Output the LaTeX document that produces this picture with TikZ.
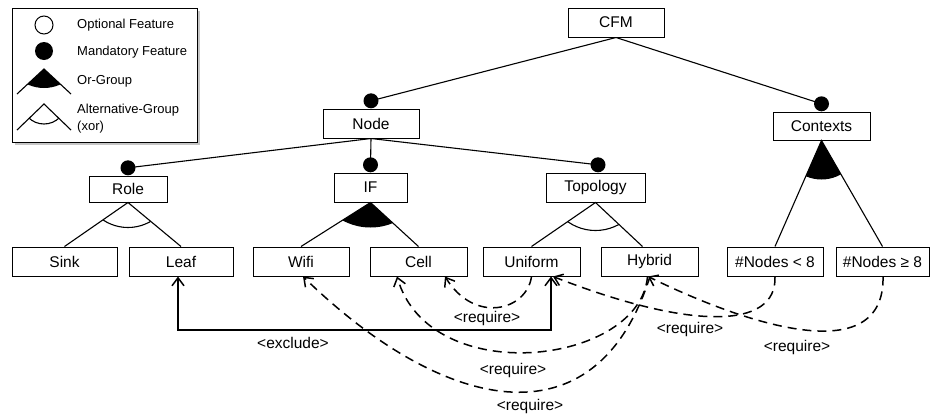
\documentclass[tikz,border=0pt]{standalone}
\usepackage{fontspec}
\setmainfont{Liberation Sans}
\usetikzlibrary{arrows.meta,calc}
\pgfdeclarelayer{bg}\pgfsetlayers{bg,main}
\begin{document}
\begin{tikzpicture}[x=1pt,y=-1pt,
 feat/.style={draw, line width=1pt, inner sep=0pt, minimum height=29pt, font=\fontsize{15.5}{18}\selectfont, fill=white},
 mand/.style={circle, fill=black, inner sep=0pt, minimum size=15pt},
 tree/.style={line width=1.1pt},
 barb/.tip={Straight Barb[length=8pt,width=12pt]},
 req/.style={line width=1.5pt, dash pattern=on 9pt off 6pt, -barb},
 lbl/.style={font=\fontsize{15.5}{18}\selectfont, inner sep=0pt},
 leg/.style={font=\fontsize{13}{15}\selectfont, anchor=west, inner sep=0pt}]

\useasboundingbox (0,0) rectangle (931,418);

% legend
\fill[gray!45] (15,11) rectangle (200,145);
\draw[line width=1pt, fill=white] (12,8) rectangle (197,142);
\draw[line width=1pt] (44,25) circle[radius=9pt];
\fill (44,51) circle[radius=9pt];
\begin{scope}
  \clip (44,69) -- (17,94) -- (71,94) -- cycle;
  \fill (44,49) circle[radius=39pt];
\end{scope}
\draw[tree] (17,94) -- (44,69) -- (71,94);
\begin{scope}
  \clip (44,104) -- (17,130) -- (71,130) -- cycle;
  \draw[tree] (44,102) circle[radius=22pt];
\end{scope}
\draw[tree] (17,130) -- (44,104) -- (71,130);
\node[leg] (lOpt) at (77,25) {Optional Feature};
\node[leg] (lMan) at (77,52) {Mandatory Feature};
\node[leg] (lOr) at (77,81) {Or-Group};
\node[leg] (lAlt) at (77,110) {Alternative-Group};
\node[leg] (lXor) at (77,127) {(xor)};

% features
\node[feat, minimum width=96pt] (CFM) at (616,22.5) {CFM};
\node[feat, minimum width=96pt] (Node) at (371,123.5) {Node};
\node[feat, minimum width=97pt, minimum height=28pt] (Ctx) at (821.5,126) {Contexts};
\node[feat, minimum width=78pt, minimum height=26pt] (Role) at (128,189) {Role};
\node[feat, minimum width=73pt] (IF) at (370.5,187.5) {IF};
\node[feat, minimum width=99pt] (Topo) at (595.5,187.5) {Topology};
\node[feat, minimum width=105pt] (Sink) at (64.5,261.5) {Sink};
\node[feat, minimum width=104pt] (Leaf) at (181,261.5) {Leaf};
\node[feat, minimum width=96pt] (Wifi) at (301,261.5) {Wifi};
\node[feat, minimum width=97pt] (Cell) at (418.5,261.5) {Cell};
\node[feat, minimum width=97pt] (Uniform) at (531.5,261.5) {Uniform};
\node[feat, minimum width=97pt] (Hybrid) at (649.5,261.5) {Hybrid};
\node[feat, minimum width=96pt] (N8lt) at (775,261.5) {\#Nodes < 8};
\node[feat, minimum width=93pt] (N8ge) at (882.5,261.5) {\#Nodes ≥ 8};

% mandatory dots
\node[mand, anchor=south] (dNode) at (Node.north) {};
\node[mand, anchor=south] (dCtx) at (Ctx.north) {};
\node[mand, anchor=south] (dRole) at (Role.north) {};
\node[mand, anchor=south] (dIF) at (IF.north) {};
\node[mand, anchor=south] (dTopo) at ([xshift=2.5pt]Topo.north) {};

\begin{pgfonlayer}{bg}
\draw[tree] (CFM.south) -- (dNode.center);
\draw[tree] (CFM.south) -- (dCtx.center);
\draw[tree] (Node.south) -- (dRole.center);
\draw[tree] (Node.south) -- (dIF.center);
\draw[tree] (Node.south) -- (dTopo.center);
\end{pgfonlayer}

% groups
\begin{scope}
  \clip (Role.south) -- (Sink.north) -- (Leaf.north) -- cycle;
  \draw[tree] ($(Role.south)+(0,-20)$) circle[radius=45pt];
\end{scope}
\draw[tree] (Sink.north) -- (Role.south) -- (Leaf.north);

\begin{scope}
  \clip (IF.south) -- (Wifi.north) -- (Cell.north) -- cycle;
  \fill ($(IF.south)+(0,-34)$) circle[radius=59pt];
\end{scope}
\draw[tree] (Wifi.north) -- (IF.south) -- (Cell.north);

\begin{scope}
  \clip (Topo.south) -- (Uniform.north) -- ([xshift=-7pt]Hybrid.north) -- cycle;
  \draw[tree] ($(Topo.south)+(0,-20)$) circle[radius=48pt];
\end{scope}
\draw[tree] (Uniform.north) -- (Topo.south) -- ([xshift=-7pt]Hybrid.north);

\begin{scope}
  \clip (Ctx.south) -- (N8lt.north) -- (N8ge.north) -- cycle;
  \fill (Ctx.south) circle[radius=39pt];
\end{scope}
\draw[tree] (N8lt.north) -- (Ctx.south) -- (N8ge.north);

% cross-tree constraints
\coordinate (exA) at (364,330);
\draw[line width=1.5pt, barb-barb] ([xshift=-3pt]Leaf.south) |- (exA) -| ([xshift=19.5pt]Uniform.south);
\draw[req] (Uniform.south) .. controls (527,310) and (475,325) .. ([xshift=26.5pt]Cell.south);
\draw[req] ([xshift=-2pt]Hybrid.south) .. controls (640,365) and (430,390) .. ([xshift=-21.5pt]Cell.south);
\draw[req] ([xshift=0.5pt]Hybrid.south) .. controls (595,450) and (440,410) .. ([xshift=2pt]Wifi.south);
\draw[req] (N8lt.south) .. controls (777,330) and (690,330) .. ([xshift=21.5pt]Uniform.south);
\draw[req] ([xshift=0.5pt]N8ge.south) .. controls (885,370) and (747,325) .. ([xshift=-1.5pt]Hybrid.south);

\node[lbl] (ex) at (293,343) {<exclude>};
\node[lbl] (rq1) at (487,318) {<require>};
\node[lbl] (rq2) at (513,370) {<require>};
\node[lbl] (rq3) at (530,406) {<require>};
\node[lbl] (rq4) at (690,329) {<require>};
\node[lbl] (rq5) at (797,347) {<require>};
\end{tikzpicture}
\end{document}
